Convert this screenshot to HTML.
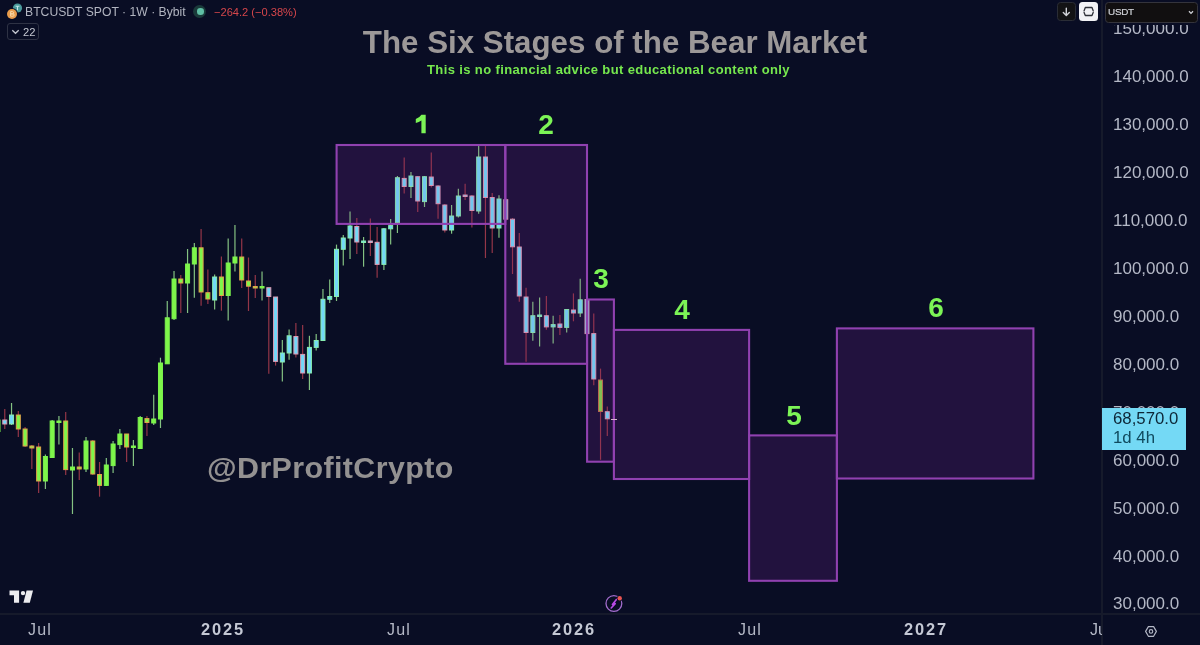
<!DOCTYPE html>
<html><head><meta charset="utf-8">
<style>
html,body{margin:0;padding:0;}
*{-webkit-font-smoothing:antialiased;}
.abs,.pl,.tl,.num{will-change:transform;}
body{width:1200px;height:645px;overflow:hidden;background:#090d24;position:relative;font-family:"Liberation Sans",sans-serif;}
.abs{position:absolute;}
.pl{position:absolute;left:1112.6px;width:80px;text-align:left;font-size:17px;color:#b4b8c6;line-height:19px;white-space:nowrap;}
.tl{position:absolute;top:620.2px;font-size:16px;letter-spacing:1.1px;color:#b4b8c6;line-height:19px;white-space:nowrap;transform:translateX(-50%);}
.tlb{font-weight:bold;font-size:16.4px;letter-spacing:1.9px;color:#c4c8d4;}
.num{position:absolute;font-weight:bold;font-size:28px;color:#7cf456;line-height:26px;transform:translateX(-50%);}
</style></head><body>
<svg class="abs" style="left:0;top:0" width="1102" height="613" viewBox="0 0 1102 613">
<rect x="336.6" y="145.0" width="168.70" height="78.90" fill="rgba(124,42,160,0.13)"/>
<rect x="505.3" y="145.0" width="81.70" height="218.80" fill="rgba(124,42,160,0.13)"/>
<rect x="587.1" y="299.5" width="26.80" height="162.20" fill="rgba(124,42,160,0.13)"/>
<rect x="613.9" y="329.9" width="135.20" height="149.10" fill="rgba(124,42,160,0.13)"/>
<rect x="749.1" y="435.4" width="87.80" height="145.40" fill="rgba(124,42,160,0.13)"/>
<rect x="836.9" y="328.4" width="196.50" height="150.10" fill="rgba(124,42,160,0.13)"/>
<line x1="-2.00" y1="419" x2="-2.00" y2="432" stroke="#84c282" stroke-width="1.2"/>
<rect x="-4.00" y="420" width="4.0" height="11.50" fill="#7ef64a" stroke="#7cf34e" stroke-width="1"/>
<line x1="4.77" y1="409" x2="4.77" y2="429" stroke="#943648" stroke-width="1.2"/>
<rect x="2.77" y="420" width="4.0" height="4.00" fill="#72d8f8" stroke="#dc9cb4" stroke-width="1"/>
<line x1="11.54" y1="403" x2="11.54" y2="425" stroke="#84c282" stroke-width="1.2"/>
<rect x="9.54" y="415" width="4.0" height="9.00" fill="#72d8f8" stroke="#88eeb0" stroke-width="1"/>
<line x1="18.31" y1="411" x2="18.31" y2="437" stroke="#943648" stroke-width="1.2"/>
<rect x="16.31" y="415" width="4.0" height="14.00" fill="#7ef64a" stroke="#e0a44a" stroke-width="1"/>
<line x1="25.08" y1="427" x2="25.08" y2="447" stroke="#943648" stroke-width="1.2"/>
<rect x="23.08" y="429" width="4.0" height="17.00" fill="#7ef64a" stroke="#e0a44a" stroke-width="1"/>
<line x1="31.85" y1="445" x2="31.85" y2="469" stroke="#943648" stroke-width="1.2"/>
<rect x="29.85" y="446" width="4.0" height="2.00" fill="#7ef64a" stroke="#e0a44a" stroke-width="1"/>
<line x1="38.62" y1="443" x2="38.62" y2="493" stroke="#943648" stroke-width="1.2"/>
<rect x="36.62" y="447" width="4.0" height="34.00" fill="#7ef64a" stroke="#e0a44a" stroke-width="1"/>
<line x1="45.39" y1="454.5" x2="45.39" y2="489" stroke="#84c282" stroke-width="1.2"/>
<rect x="43.39" y="456.5" width="4.0" height="24.50" fill="#7ef64a" stroke="#7cf34e" stroke-width="1"/>
<line x1="52.16" y1="420" x2="52.16" y2="458" stroke="#84c282" stroke-width="1.2"/>
<rect x="50.16" y="421" width="4.0" height="36.50" fill="#7ef64a" stroke="#7cf34e" stroke-width="1"/>
<line x1="58.93" y1="416" x2="58.93" y2="444.5" stroke="#84c282" stroke-width="1.2"/>
<rect x="56.93" y="421" width="4.0" height="1.50" fill="#7ef64a" stroke="#7cf34e" stroke-width="1"/>
<line x1="65.70" y1="412" x2="65.70" y2="475" stroke="#943648" stroke-width="1.2"/>
<rect x="63.70" y="421" width="4.0" height="48.60" fill="#7ef64a" stroke="#e0a44a" stroke-width="1"/>
<line x1="72.47" y1="448" x2="72.47" y2="514" stroke="#84c282" stroke-width="1.2"/>
<rect x="70.47" y="467" width="4.0" height="3.00" fill="#7ef64a" stroke="#7cf34e" stroke-width="1"/>
<line x1="79.24" y1="452.5" x2="79.24" y2="480" stroke="#943648" stroke-width="1.2"/>
<rect x="77.24" y="467" width="4.0" height="2.00" fill="#7ef64a" stroke="#e0a44a" stroke-width="1"/>
<line x1="86.01" y1="437" x2="86.01" y2="472" stroke="#84c282" stroke-width="1.2"/>
<rect x="84.01" y="441" width="4.0" height="28.00" fill="#7ef64a" stroke="#7cf34e" stroke-width="1"/>
<line x1="92.78" y1="440" x2="92.78" y2="475" stroke="#943648" stroke-width="1.2"/>
<rect x="90.78" y="441" width="4.0" height="33.00" fill="#7ef64a" stroke="#e0a44a" stroke-width="1"/>
<line x1="99.55" y1="462" x2="99.55" y2="496.7" stroke="#943648" stroke-width="1.2"/>
<rect x="97.55" y="474.5" width="4.0" height="10.90" fill="#7ef64a" stroke="#e0a44a" stroke-width="1"/>
<line x1="106.32" y1="458" x2="106.32" y2="486" stroke="#84c282" stroke-width="1.2"/>
<rect x="104.32" y="465" width="4.0" height="20.40" fill="#7ef64a" stroke="#7cf34e" stroke-width="1"/>
<line x1="113.09" y1="441" x2="113.09" y2="473" stroke="#84c282" stroke-width="1.2"/>
<rect x="111.09" y="444" width="4.0" height="21.60" fill="#7ef64a" stroke="#7cf34e" stroke-width="1"/>
<line x1="119.86" y1="429" x2="119.86" y2="449" stroke="#84c282" stroke-width="1.2"/>
<rect x="117.86" y="434" width="4.0" height="10.60" fill="#7ef64a" stroke="#7cf34e" stroke-width="1"/>
<line x1="126.63" y1="434" x2="126.63" y2="462" stroke="#943648" stroke-width="1.2"/>
<rect x="124.63" y="434" width="4.0" height="13.00" fill="#7ef64a" stroke="#e0a44a" stroke-width="1"/>
<line x1="133.40" y1="440" x2="133.40" y2="466" stroke="#84c282" stroke-width="1.2"/>
<rect x="131.40" y="446" width="4.0" height="1.50" fill="#7ef64a" stroke="#7cf34e" stroke-width="1"/>
<line x1="140.17" y1="416" x2="140.17" y2="449" stroke="#84c282" stroke-width="1.2"/>
<rect x="138.17" y="417.5" width="4.0" height="31.00" fill="#7ef64a" stroke="#7cf34e" stroke-width="1"/>
<line x1="146.94" y1="416" x2="146.94" y2="436" stroke="#943648" stroke-width="1.2"/>
<rect x="144.94" y="418.6" width="4.0" height="3.90" fill="#7ef64a" stroke="#e0a44a" stroke-width="1"/>
<line x1="153.71" y1="394.7" x2="153.71" y2="425" stroke="#84c282" stroke-width="1.2"/>
<rect x="151.71" y="419" width="4.0" height="4.00" fill="#7ef64a" stroke="#7cf34e" stroke-width="1"/>
<line x1="160.48" y1="357.7" x2="160.48" y2="428" stroke="#84c282" stroke-width="1.2"/>
<rect x="158.48" y="363" width="4.0" height="56.00" fill="#7ef64a" stroke="#7cf34e" stroke-width="1"/>
<line x1="167.25" y1="301" x2="167.25" y2="364" stroke="#84c282" stroke-width="1.2"/>
<rect x="165.25" y="317.8" width="4.0" height="46.00" fill="#7ef64a" stroke="#7cf34e" stroke-width="1"/>
<line x1="174.02" y1="271" x2="174.02" y2="320" stroke="#84c282" stroke-width="1.2"/>
<rect x="172.02" y="279" width="4.0" height="39.70" fill="#7ef64a" stroke="#7cf34e" stroke-width="1"/>
<line x1="180.79" y1="275" x2="180.79" y2="313" stroke="#943648" stroke-width="1.2"/>
<rect x="178.79" y="279" width="4.0" height="4.00" fill="#7ef64a" stroke="#e0a44a" stroke-width="1"/>
<line x1="187.56" y1="249" x2="187.56" y2="313" stroke="#84c282" stroke-width="1.2"/>
<rect x="185.56" y="264" width="4.0" height="19.00" fill="#7ef64a" stroke="#7cf34e" stroke-width="1"/>
<line x1="194.33" y1="243" x2="194.33" y2="297.7" stroke="#84c282" stroke-width="1.2"/>
<rect x="192.33" y="247.8" width="4.0" height="16.20" fill="#7ef64a" stroke="#7cf34e" stroke-width="1"/>
<line x1="201.10" y1="229" x2="201.10" y2="305.7" stroke="#943648" stroke-width="1.2"/>
<rect x="199.10" y="247.8" width="4.0" height="44.20" fill="#7ef64a" stroke="#e0a44a" stroke-width="1"/>
<line x1="207.87" y1="269.5" x2="207.87" y2="304" stroke="#943648" stroke-width="1.2"/>
<rect x="205.87" y="292.7" width="4.0" height="6.30" fill="#7ef64a" stroke="#e0a44a" stroke-width="1"/>
<line x1="214.64" y1="274.5" x2="214.64" y2="309.6" stroke="#84c282" stroke-width="1.2"/>
<rect x="212.64" y="277" width="4.0" height="23.00" fill="#72d8f8" stroke="#88eeb0" stroke-width="1"/>
<line x1="221.41" y1="256.5" x2="221.41" y2="310.7" stroke="#943648" stroke-width="1.2"/>
<rect x="219.41" y="277" width="4.0" height="18.50" fill="#7ef64a" stroke="#e0a44a" stroke-width="1"/>
<line x1="228.18" y1="238.4" x2="228.18" y2="320.4" stroke="#84c282" stroke-width="1.2"/>
<rect x="226.18" y="263" width="4.0" height="32.50" fill="#7ef64a" stroke="#7cf34e" stroke-width="1"/>
<line x1="234.95" y1="225" x2="234.95" y2="271.6" stroke="#84c282" stroke-width="1.2"/>
<rect x="232.95" y="257" width="4.0" height="6.00" fill="#7ef64a" stroke="#7cf34e" stroke-width="1"/>
<line x1="241.72" y1="238.4" x2="241.72" y2="288" stroke="#943648" stroke-width="1.2"/>
<rect x="239.72" y="257" width="4.0" height="23.00" fill="#7ef64a" stroke="#e0a44a" stroke-width="1"/>
<line x1="248.49" y1="257.5" x2="248.49" y2="311" stroke="#943648" stroke-width="1.2"/>
<rect x="246.49" y="281" width="4.0" height="5.20" fill="#7ef64a" stroke="#e0a44a" stroke-width="1"/>
<line x1="255.26" y1="275" x2="255.26" y2="298" stroke="#943648" stroke-width="1.2"/>
<rect x="253.26" y="286.5" width="4.0" height="1.50" fill="#7ef64a" stroke="#e0a44a" stroke-width="1"/>
<line x1="262.03" y1="271.4" x2="262.03" y2="300.5" stroke="#84c282" stroke-width="1.2"/>
<rect x="260.03" y="286.5" width="4.0" height="1.50" fill="#7ef64a" stroke="#7cf34e" stroke-width="1"/>
<line x1="268.80" y1="287.7" x2="268.80" y2="373.7" stroke="#943648" stroke-width="1.2"/>
<rect x="266.80" y="287.7" width="4.0" height="8.80" fill="#72d8f8" stroke="#dc9cb4" stroke-width="1"/>
<line x1="275.57" y1="297" x2="275.57" y2="365.6" stroke="#943648" stroke-width="1.2"/>
<rect x="273.57" y="297" width="4.0" height="64.40" fill="#72d8f8" stroke="#dc9cb4" stroke-width="1"/>
<line x1="282.34" y1="340" x2="282.34" y2="381.4" stroke="#84c282" stroke-width="1.2"/>
<rect x="280.34" y="353" width="4.0" height="9.00" fill="#72d8f8" stroke="#88eeb0" stroke-width="1"/>
<line x1="289.11" y1="329.5" x2="289.11" y2="359.8" stroke="#84c282" stroke-width="1.2"/>
<rect x="287.11" y="335.8" width="4.0" height="17.20" fill="#72d8f8" stroke="#88eeb0" stroke-width="1"/>
<line x1="295.88" y1="323" x2="295.88" y2="357.4" stroke="#943648" stroke-width="1.2"/>
<rect x="293.88" y="336.5" width="4.0" height="17.50" fill="#72d8f8" stroke="#dc9cb4" stroke-width="1"/>
<line x1="302.65" y1="325" x2="302.65" y2="379" stroke="#943648" stroke-width="1.2"/>
<rect x="300.65" y="354.4" width="4.0" height="18.60" fill="#72d8f8" stroke="#dc9cb4" stroke-width="1"/>
<line x1="309.42" y1="335.8" x2="309.42" y2="390" stroke="#84c282" stroke-width="1.2"/>
<rect x="307.42" y="347.4" width="4.0" height="25.60" fill="#72d8f8" stroke="#88eeb0" stroke-width="1"/>
<line x1="316.19" y1="334" x2="316.19" y2="350.5" stroke="#84c282" stroke-width="1.2"/>
<rect x="314.19" y="340.5" width="4.0" height="6.90" fill="#72d8f8" stroke="#88eeb0" stroke-width="1"/>
<line x1="322.96" y1="289" x2="322.96" y2="341" stroke="#84c282" stroke-width="1.2"/>
<rect x="320.96" y="299.3" width="4.0" height="41.20" fill="#72d8f8" stroke="#88eeb0" stroke-width="1"/>
<line x1="329.73" y1="279.5" x2="329.73" y2="303" stroke="#84c282" stroke-width="1.2"/>
<rect x="327.73" y="296.5" width="4.0" height="2.80" fill="#72d8f8" stroke="#88eeb0" stroke-width="1"/>
<line x1="336.50" y1="244.6" x2="336.50" y2="301" stroke="#84c282" stroke-width="1.2"/>
<rect x="334.50" y="249.3" width="4.0" height="47.20" fill="#72d8f8" stroke="#88eeb0" stroke-width="1"/>
<line x1="343.27" y1="235" x2="343.27" y2="265.6" stroke="#84c282" stroke-width="1.2"/>
<rect x="341.27" y="238" width="4.0" height="11.30" fill="#72d8f8" stroke="#88eeb0" stroke-width="1"/>
<line x1="350.04" y1="211.6" x2="350.04" y2="259" stroke="#84c282" stroke-width="1.2"/>
<rect x="348.04" y="226" width="4.0" height="12.00" fill="#72d8f8" stroke="#88eeb0" stroke-width="1"/>
<line x1="356.81" y1="218" x2="356.81" y2="254" stroke="#943648" stroke-width="1.2"/>
<rect x="354.81" y="226.5" width="4.0" height="15.50" fill="#72d8f8" stroke="#dc9cb4" stroke-width="1"/>
<line x1="363.58" y1="237" x2="363.58" y2="266.7" stroke="#84c282" stroke-width="1.2"/>
<rect x="361.58" y="241" width="4.0" height="1.50" fill="#72d8f8" stroke="#88eeb0" stroke-width="1"/>
<line x1="370.35" y1="218.6" x2="370.35" y2="256" stroke="#943648" stroke-width="1.2"/>
<rect x="368.35" y="241" width="4.0" height="1.50" fill="#72d8f8" stroke="#dc9cb4" stroke-width="1"/>
<line x1="377.12" y1="227" x2="377.12" y2="277.7" stroke="#943648" stroke-width="1.2"/>
<rect x="375.12" y="242.3" width="4.0" height="22.10" fill="#72d8f8" stroke="#dc9cb4" stroke-width="1"/>
<line x1="383.89" y1="228" x2="383.89" y2="270" stroke="#84c282" stroke-width="1.2"/>
<rect x="381.89" y="228.8" width="4.0" height="35.60" fill="#72d8f8" stroke="#88eeb0" stroke-width="1"/>
<line x1="390.66" y1="219" x2="390.66" y2="244.6" stroke="#84c282" stroke-width="1.2"/>
<rect x="388.66" y="225.6" width="4.0" height="3.20" fill="#72d8f8" stroke="#88eeb0" stroke-width="1"/>
<line x1="397.43" y1="176" x2="397.43" y2="233" stroke="#84c282" stroke-width="1.2"/>
<rect x="395.43" y="177.7" width="4.0" height="44.90" fill="#72d8f8" stroke="#88eeb0" stroke-width="1"/>
<line x1="404.20" y1="157.4" x2="404.20" y2="193.5" stroke="#943648" stroke-width="1.2"/>
<rect x="402.20" y="178.4" width="4.0" height="8.10" fill="#72d8f8" stroke="#dc9cb4" stroke-width="1"/>
<line x1="410.97" y1="172" x2="410.97" y2="198" stroke="#84c282" stroke-width="1.2"/>
<rect x="408.97" y="176" width="4.0" height="10.50" fill="#72d8f8" stroke="#88eeb0" stroke-width="1"/>
<line x1="417.74" y1="176" x2="417.74" y2="212" stroke="#943648" stroke-width="1.2"/>
<rect x="415.74" y="176.7" width="4.0" height="24.30" fill="#72d8f8" stroke="#dc9cb4" stroke-width="1"/>
<line x1="424.51" y1="176" x2="424.51" y2="207" stroke="#84c282" stroke-width="1.2"/>
<rect x="422.51" y="176.7" width="4.0" height="24.90" fill="#72d8f8" stroke="#88eeb0" stroke-width="1"/>
<line x1="431.28" y1="152.5" x2="431.28" y2="187.5" stroke="#943648" stroke-width="1.2"/>
<rect x="429.28" y="177" width="4.0" height="8.50" fill="#72d8f8" stroke="#dc9cb4" stroke-width="1"/>
<line x1="438.05" y1="185" x2="438.05" y2="218.7" stroke="#943648" stroke-width="1.2"/>
<rect x="436.05" y="186" width="4.0" height="17.70" fill="#72d8f8" stroke="#dc9cb4" stroke-width="1"/>
<line x1="444.82" y1="204" x2="444.82" y2="232.5" stroke="#943648" stroke-width="1.2"/>
<rect x="442.82" y="205" width="4.0" height="25.00" fill="#72d8f8" stroke="#dc9cb4" stroke-width="1"/>
<line x1="451.59" y1="205" x2="451.59" y2="233.7" stroke="#84c282" stroke-width="1.2"/>
<rect x="449.59" y="216" width="4.0" height="14.00" fill="#72d8f8" stroke="#88eeb0" stroke-width="1"/>
<line x1="458.36" y1="188.7" x2="458.36" y2="217.5" stroke="#84c282" stroke-width="1.2"/>
<rect x="456.36" y="196" width="4.0" height="20.00" fill="#72d8f8" stroke="#88eeb0" stroke-width="1"/>
<line x1="465.13" y1="183.7" x2="465.13" y2="200" stroke="#943648" stroke-width="1.2"/>
<rect x="463.13" y="195" width="4.0" height="1.50" fill="#72d8f8" stroke="#dc9cb4" stroke-width="1"/>
<line x1="471.90" y1="195" x2="471.90" y2="227.5" stroke="#943648" stroke-width="1.2"/>
<rect x="469.90" y="196" width="4.0" height="14.50" fill="#72d8f8" stroke="#dc9cb4" stroke-width="1"/>
<line x1="478.67" y1="146" x2="478.67" y2="213.8" stroke="#84c282" stroke-width="1.2"/>
<rect x="476.67" y="157" width="4.0" height="54.00" fill="#72d8f8" stroke="#88eeb0" stroke-width="1"/>
<line x1="485.44" y1="146" x2="485.44" y2="258" stroke="#943648" stroke-width="1.2"/>
<rect x="483.44" y="157" width="4.0" height="40.50" fill="#72d8f8" stroke="#dc9cb4" stroke-width="1"/>
<line x1="492.21" y1="193" x2="492.21" y2="252.9" stroke="#943648" stroke-width="1.2"/>
<rect x="490.21" y="197.5" width="4.0" height="30.50" fill="#72d8f8" stroke="#dc9cb4" stroke-width="1"/>
<line x1="498.98" y1="195.3" x2="498.98" y2="237.7" stroke="#84c282" stroke-width="1.2"/>
<rect x="496.98" y="199" width="4.0" height="29.00" fill="#72d8f8" stroke="#88eeb0" stroke-width="1"/>
<line x1="505.75" y1="198" x2="505.75" y2="221" stroke="#943648" stroke-width="1.2"/>
<rect x="503.75" y="199.7" width="4.0" height="19.50" fill="#72d8f8" stroke="#dc9cb4" stroke-width="1"/>
<line x1="512.52" y1="218" x2="512.52" y2="274" stroke="#943648" stroke-width="1.2"/>
<rect x="510.52" y="219.2" width="4.0" height="27.60" fill="#72d8f8" stroke="#dc9cb4" stroke-width="1"/>
<line x1="519.29" y1="233" x2="519.29" y2="301.7" stroke="#943648" stroke-width="1.2"/>
<rect x="517.29" y="247" width="4.0" height="49.00" fill="#72d8f8" stroke="#dc9cb4" stroke-width="1"/>
<line x1="526.06" y1="287.8" x2="526.06" y2="361.8" stroke="#943648" stroke-width="1.2"/>
<rect x="524.06" y="297" width="4.0" height="35.50" fill="#72d8f8" stroke="#dc9cb4" stroke-width="1"/>
<line x1="532.83" y1="301.7" x2="532.83" y2="340.8" stroke="#84c282" stroke-width="1.2"/>
<rect x="530.83" y="315.7" width="4.0" height="16.80" fill="#72d8f8" stroke="#88eeb0" stroke-width="1"/>
<line x1="539.60" y1="297.5" x2="539.60" y2="346.4" stroke="#84c282" stroke-width="1.2"/>
<rect x="537.60" y="315" width="4.0" height="1.50" fill="#72d8f8" stroke="#88eeb0" stroke-width="1"/>
<line x1="546.37" y1="296" x2="546.37" y2="329.7" stroke="#943648" stroke-width="1.2"/>
<rect x="544.37" y="315.7" width="4.0" height="11.20" fill="#72d8f8" stroke="#dc9cb4" stroke-width="1"/>
<line x1="553.14" y1="315.7" x2="553.14" y2="343.6" stroke="#84c282" stroke-width="1.2"/>
<rect x="551.14" y="324.6" width="4.0" height="2.30" fill="#72d8f8" stroke="#88eeb0" stroke-width="1"/>
<line x1="559.91" y1="315" x2="559.91" y2="335" stroke="#943648" stroke-width="1.2"/>
<rect x="557.91" y="324" width="4.0" height="3.40" fill="#72d8f8" stroke="#dc9cb4" stroke-width="1"/>
<line x1="566.68" y1="309" x2="566.68" y2="332.5" stroke="#84c282" stroke-width="1.2"/>
<rect x="564.68" y="309.5" width="4.0" height="17.90" fill="#72d8f8" stroke="#88eeb0" stroke-width="1"/>
<line x1="573.45" y1="293.4" x2="573.45" y2="321.3" stroke="#943648" stroke-width="1.2"/>
<rect x="571.45" y="310" width="4.0" height="3.00" fill="#72d8f8" stroke="#dc9cb4" stroke-width="1"/>
<line x1="580.22" y1="278.8" x2="580.22" y2="317" stroke="#84c282" stroke-width="1.2"/>
<rect x="578.22" y="299.8" width="4.0" height="13.20" fill="#72d8f8" stroke="#88eeb0" stroke-width="1"/>
<line x1="586.99" y1="298" x2="586.99" y2="334" stroke="#943648" stroke-width="1.2"/>
<rect x="584.99" y="299.5" width="4.0" height="34.10" fill="#72d8f8" stroke="#dc9cb4" stroke-width="1"/>
<line x1="593.76" y1="313.4" x2="593.76" y2="385.3" stroke="#943648" stroke-width="1.2"/>
<rect x="591.76" y="333.6" width="4.0" height="45.40" fill="#72d8f8" stroke="#dc9cb4" stroke-width="1"/>
<line x1="600.53" y1="368.6" x2="600.53" y2="459.8" stroke="#943648" stroke-width="1.2"/>
<rect x="598.53" y="380" width="4.0" height="31.50" fill="#86d04a" stroke="#c0704a" stroke-width="1"/>
<line x1="607.30" y1="406.4" x2="607.30" y2="436" stroke="#943648" stroke-width="1.2"/>
<rect x="605.30" y="411.7" width="4.0" height="7.10" fill="#72d8f8" stroke="#dc9cb4" stroke-width="1"/>
<line x1="614.07" y1="415.7" x2="614.07" y2="424" stroke="#943648" stroke-width="1.2"/>
<rect x="336.6" y="145.0" width="168.70" height="78.90" fill="rgba(124,42,160,0.10)"/>
<rect x="505.3" y="145.0" width="81.70" height="218.80" fill="rgba(124,42,160,0.10)"/>
<rect x="587.1" y="299.5" width="26.80" height="162.20" fill="rgba(124,42,160,0.10)"/>
<rect x="613.9" y="329.9" width="135.20" height="149.10" fill="rgba(124,42,160,0.10)"/>
<rect x="749.1" y="435.4" width="87.80" height="145.40" fill="rgba(124,42,160,0.10)"/>
<rect x="836.9" y="328.4" width="196.50" height="150.10" fill="rgba(124,42,160,0.10)"/>
<rect x="336.6" y="145.0" width="168.70" height="78.90" fill="none" stroke="#9041b0" stroke-width="2.1"/>
<rect x="505.3" y="145.0" width="81.70" height="218.80" fill="none" stroke="#9041b0" stroke-width="2.1"/>
<rect x="587.1" y="299.5" width="26.80" height="162.20" fill="none" stroke="#9041b0" stroke-width="2.1"/>
<rect x="613.9" y="329.9" width="135.20" height="149.10" fill="none" stroke="#9041b0" stroke-width="2.1"/>
<rect x="749.1" y="435.4" width="87.80" height="145.40" fill="none" stroke="#9041b0" stroke-width="2.1"/>
<rect x="836.9" y="328.4" width="196.50" height="150.10" fill="none" stroke="#9041b0" stroke-width="2.1"/>
</svg>

<!-- price line tick -->
<div class="abs" style="left:610.8px;top:418.8px;width:5.6px;height:1.4px;background:#d9b0d0"></div>

<!-- axis separators -->
<div class="abs" style="left:1101px;top:0;width:2px;height:645px;background:#161a2b"></div>
<div class="abs" style="left:0;top:613px;width:1200px;height:2px;background:#161a2b"></div>

<!-- price labels -->
<div class="abs" style="left:1102px;top:25.2px;width:98px;height:588px;overflow:hidden">
<div style="position:absolute;left:-1102px;top:-25.2px;width:1200px;height:645px">
<div class="pl" style="top:19.0px">150,000.0</div>
<div class="pl" style="top:67.0px">140,000.0</div>
<div class="pl" style="top:114.9px">130,000.0</div>
<div class="pl" style="top:162.9px">120,000.0</div>
<div class="pl" style="top:210.9px">110,000.0</div>
<div class="pl" style="top:258.8px">100,000.0</div>
<div class="pl" style="top:306.8px">90,000.0</div>
<div class="pl" style="top:354.8px">80,000.0</div>
<div class="pl" style="top:402.7px">70,000.0</div>
<div class="pl" style="top:450.7px">60,000.0</div>
<div class="pl" style="top:498.7px">50,000.0</div>
<div class="pl" style="top:546.7px">40,000.0</div>
<div class="pl" style="top:594.6px">30,000.0</div>
</div></div>

<!-- current price label -->
<div class="abs" style="left:1102px;top:408px;width:84px;height:42px;background:#74d9f5"></div>
<div class="abs" style="left:1113px;top:410.3px;font-size:16.8px;line-height:18px;color:#0d2636">68,570.0</div>
<div class="abs" style="left:1113px;top:428.5px;font-size:16.8px;line-height:18px;color:#104a5e">1d 4h</div>

<!-- time labels -->
<div class="tl" style="left:40.3px">Jul</div>
<div class="tl tlb" style="left:222.7px">2025</div>
<div class="tl" style="left:399px">Jul</div>
<div class="tl tlb" style="left:574px">2026</div>
<div class="tl" style="left:750.3px">Jul</div>
<div class="tl tlb" style="left:926px">2027</div>
<div class="abs" style="left:1090px;top:620.2px;width:12px;overflow:hidden;font-size:16px;color:#b4b8c6;line-height:19px">Jul</div>

<!-- title -->
<div class="abs" style="left:0;width:1230px;top:25px;text-align:center;font-weight:bold;font-size:31.3px;line-height:36px;color:#9c9898">The Six Stages of the Bear Market</div>
<div class="abs" style="left:0;width:1217px;top:62.3px;text-align:center;font-weight:bold;font-size:13px;letter-spacing:0.38px;line-height:16px;color:#76e84e">This is no financial advice but educational content only</div>

<!-- watermark -->
<div class="abs" style="left:206.5px;top:448.5px;font-weight:bold;font-size:30.4px;letter-spacing:0.4px;line-height:36px;color:#939191">@DrProfitCrypto</div>

<!-- stage numbers -->
<svg class="abs" style="left:410px;top:110px" width="20" height="28" viewBox="410 110 20 28"><path d="M421.4 114.7 H425.7 V133.3 H421.4 V120.6 Q418.9 122.2 415.8 122.9 V119.0 Q419.6 117.6 421.4 114.7 Z" fill="#7cf456"/></svg>
<div class="num" style="left:546px;top:112px">2</div>
<div class="num" style="left:600.5px;top:266px">3</div>
<div class="num" style="left:681.5px;top:297px">4</div>
<div class="num" style="left:794px;top:403px">5</div>
<div class="num" style="left:935.8px;top:295px">6</div>

<!-- header -->
<svg class="abs" style="left:0;top:0" width="25" height="22" viewBox="0 0 25 22">
<circle cx="17.5" cy="8" r="4.6" fill="#4a9a9c"/>
<path d="M15.6 6.3 H19.4 M17.5 6.3 V10.2" stroke="#bfe6e6" stroke-width="1.1" fill="none"/>
<circle cx="12" cy="14" r="5.9" fill="#090d24"/>
<circle cx="12" cy="14" r="5" fill="#e89c4c"/>
<path d="M10.6 11.6 V16.2 H13.0 Q14.2 16.2 14.2 15.0 Q14.2 13.9 12.9 13.9 H10.6 M10.6 13.9 H12.6 Q13.6 13.9 13.6 12.8 Q13.6 11.6 12.6 11.6 H10.6" stroke="#f8dcb0" stroke-width="0.9" fill="none"/>
</svg>
<div class="abs" style="left:25px;top:4.7px;font-size:12.2px;line-height:15px;color:#b2b5c0;white-space:nowrap">BTCUSDT SPOT · 1W · Bybit</div>
<div class="abs" style="left:193.3px;top:4.6px;width:13.4px;height:13.4px;border-radius:50%;background:#1a3a3a"></div>
<div class="abs" style="left:196.7px;top:8px;width:6.6px;height:6.6px;border-radius:50%;background:#5fbfa5"></div>
<div class="abs" style="left:213.5px;top:5.1px;font-size:11.1px;line-height:14px;color:#d5464b;white-space:nowrap">−264.2 (−0.38%)</div>

<div class="abs" style="left:7.3px;top:23.4px;width:32.3px;height:16.6px;border:1px solid #2e3244;border-radius:3px;box-sizing:border-box"></div>
<svg class="abs" style="left:11px;top:29px" width="9" height="6" viewBox="0 0 9 6"><path d="M1.3 1.2 L4.5 4.3 L7.7 1.2" fill="none" stroke="#c4c7d0" stroke-width="1.3"/></svg>
<div class="abs" style="left:23.3px;top:26px;font-size:11.2px;line-height:13px;color:#c4c7d0">22</div>

<!-- top right buttons -->
<div class="abs" style="left:1057.3px;top:2px;width:18.7px;height:19px;border-radius:3.5px;background:#131315;border:1px solid #2a2d36;box-sizing:border-box"></div>
<svg class="abs" style="left:1057.3px;top:2px" width="19" height="19" viewBox="0 0 19 19"><path d="M9.3 6.3 V13.3 M6.3 10.6 L9.3 13.5 L12.3 10.6" fill="none" stroke="#d0d2d8" stroke-width="1.4" stroke-linecap="round" stroke-linejoin="round"/></svg>
<div class="abs" style="left:1079.3px;top:2px;width:19.2px;height:19px;border-radius:3.5px;background:#f2f2f5"></div>
<svg class="abs" style="left:1079.3px;top:2px" width="19.2" height="19" viewBox="0 0 19.2 19"><path d="M5.1 8.8 L6.3 5.5 H13.0 L14.2 8.8 M5.1 10.4 L6.3 13.5 H13.0 L14.2 10.4" fill="none" stroke="#2e3038" stroke-width="1.3" stroke-linejoin="round" stroke-linecap="round"/></svg>
<div class="abs" style="left:1104.6px;top:1.7px;width:92.5px;height:20.8px;border-radius:3.5px;background:#110f10;border:1px solid #34343c;box-sizing:border-box"></div>
<div class="abs" style="left:1107.9px;top:6.2px;font-size:9.9px;letter-spacing:-0.25px;line-height:11px;color:#d0d2d8;-webkit-text-stroke:0.2px #d0d2d8">USDT</div>
<svg class="abs" style="left:1188px;top:10px" width="6" height="5" viewBox="0 0 6 5"><path d="M1 1.2 L3 3.4 L5 1.2" fill="none" stroke="#d0d2d8" stroke-width="1.3"/></svg>

<!-- TV logo -->
<svg class="abs" style="left:0;top:580px" width="50" height="30" viewBox="0 0 50 30">
<path d="M9.5 10.5 H19.1 V22.8 H14 V15.2 H9.5 Z" fill="#ececef"/>
<circle cx="23" cy="13.1" r="2.2" fill="#ececef"/>
<path d="M26.6 10.5 H33 L29.8 22.8 H23.4 Z" fill="#ececef"/>
</svg>
<!-- lightning icon -->
<svg class="abs" style="left:595px;top:585px" width="40" height="35" viewBox="0 0 40 35">
<circle cx="18.9" cy="18.5" r="7.9" fill="none" stroke="#a26ccc" stroke-width="1.3"/>
<path d="M21.4 14.4 L17.4 19.4 L20.2 18.6 L16.2 23.0" fill="none" stroke="#b84ae6" stroke-width="1.6" stroke-linejoin="round" stroke-linecap="round"/>
<circle cx="24.7" cy="13.3" r="2.9" fill="#090d24"/>
<circle cx="24.7" cy="13.3" r="2.2" fill="#e85452"/>
</svg>
<!-- settings hex -->
<svg class="abs" style="left:1144px;top:624px" width="14" height="14" viewBox="0 0 14 14">
<path d="M1.6 7.4 L4.4 2.6 H9.6 L12.4 7.4 L9.6 12.3 H4.4 Z" fill="none" stroke="#b4b8c6" stroke-width="1.15" stroke-linejoin="round"/>
<circle cx="7" cy="7.4" r="1.75" fill="none" stroke="#b4b8c6" stroke-width="1.15"/>
</svg>
</body></html>
